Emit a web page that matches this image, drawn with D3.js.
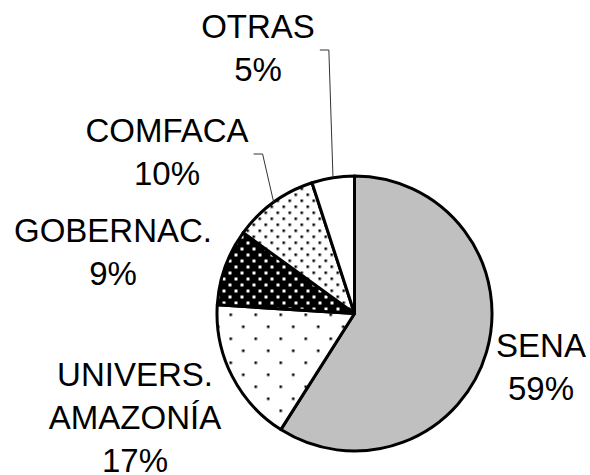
<!DOCTYPE html>
<html>
<head>
<meta charset="utf-8">
<script src="https://cdn.jsdelivr.net/npm/d3@7"></script>
<style>
  body { margin: 0; background: #fff; }
  text { font-family: Arial, "Liberation Sans", sans-serif; }
</style>
</head>
<body>
<div id="chart"></div>
<script>
// data
var categories = ["SENA", "UNIVERS. AMAZONÍA", "GOBERNAC.", "COMFACA", "OTRAS"];
var values = [59, 17, 9, 10, 5];
var labelLines = [["SENA"], ["UNIVERS.", "AMAZONÍA"], ["GOBERNAC."], ["COMFACA"], ["OTRAS"]];
var fills = ["#c0c0c0", "url(#dotsSparse)", "url(#dotsInverse)", "url(#dotsDense)", "#ffffff"];

// layout
var width = 590, height = 475;
var cx = 354.5, cy = 313.5, radius = 137.5;
var fontSize = 33, lineH = 43;
// label anchor (center x, first baseline) relative to pie center
var labelOffset = [[186.5, 43.5], [-219.5, 72], [-241.5, -71.5], [-187.5, -171.5], [-96.5, -275.5]];
var hasLeader = [false, false, false, true, true];

var svg = d3.select("#chart").append("svg")
  .attr("width", width)
  .attr("height", height);

// fill patterns
var defs = svg.append("defs");

var p1 = defs.append("pattern").attr("id", "dotsSparse")
  .attr("patternUnits", "userSpaceOnUse").attr("width", 25).attr("height", 24);
p1.append("rect").attr("width", 25).attr("height", 24).attr("fill", "#fff");
p1.append("rect").attr("x", 0).attr("y", 0).attr("width", 2.5).attr("height", 2.5).attr("fill", "#000");
p1.append("rect").attr("x", 12.5).attr("y", 12).attr("width", 2.5).attr("height", 2.5).attr("fill", "#000");

var p2 = defs.append("pattern").attr("id", "dotsDense")
  .attr("patternUnits", "userSpaceOnUse").attr("width", 12).attr("height", 12);
p2.append("rect").attr("width", 12).attr("height", 12).attr("fill", "#fff");
p2.append("rect").attr("x", 0).attr("y", 0).attr("width", 2.5).attr("height", 2.5).attr("fill", "#000");
p2.append("rect").attr("x", 6).attr("y", 6).attr("width", 2.5).attr("height", 2.5).attr("fill", "#000");

var p3 = defs.append("pattern").attr("id", "dotsInverse")
  .attr("patternUnits", "userSpaceOnUse").attr("width", 12).attr("height", 12);
p3.append("rect").attr("width", 12).attr("height", 12).attr("fill", "#000");
p3.append("rect").attr("x", 0).attr("y", 0).attr("width", 3).attr("height", 3).attr("fill", "#fff");
p3.append("rect").attr("x", 6).attr("y", 6).attr("width", 3).attr("height", 3).attr("fill", "#fff");

var g = svg.append("g").attr("transform", `translate(${cx}, ${cy})`);

var entries = categories.map(function (c, i) { return { key: c, value: values[i], i: i }; });
var total = d3.sum(values);

var pie = d3.pie().value(d => d.value).sort(null);
var arcs = pie(entries);

var arc = d3.arc().innerRadius(0).outerRadius(radius);

g.selectAll("path.slice")
  .data(arcs)
  .enter()
  .append("path")
    .attr("class", "slice")
    .attr("d", arc)
    .attr("fill", d => fills[d.data.i])
    .attr("stroke", "#000")
    .attr("stroke-width", 3)
    .attr("stroke-linejoin", "round");

// labels
var labels = g.selectAll("g.label")
  .data(arcs)
  .enter()
  .append("g")
    .attr("class", "label");

labels.each(function (d) {
  var i = d.data.i;
  var lines = labelLines[i].concat([Math.round(d.data.value / total * 100) + "%"]);
  var t = d3.select(this).append("text")
    .attr("text-anchor", "middle")
    .style("font-size", fontSize + "px")
    .attr("fill", "#000");
  lines.forEach(function (ln, k) {
    t.append("tspan")
      .attr("x", labelOffset[i][0])
      .attr("y", labelOffset[i][1] + k * lineH)
      .text(ln);
  });
});

// leader lines from label to slice edge midpoint
labels.each(function (d) {
  var i = d.data.i;
  if (!hasLeader[i]) return;
  var first = d3.select(this).select("tspan").node();
  var bb = first.getBBox();
  var x0 = bb.x + bb.width + 5;
  var y0 = labelOffset[i][1] + 12;
  var mid = (d.startAngle + d.endAngle) / 2;
  var ex = radius * Math.sin(mid), ey = -radius * Math.cos(mid);
  g.append("path")
    .attr("d", d3.line()([[x0, y0], [x0 + 9, y0], [ex, ey]]))
    .attr("fill", "none")
    .attr("stroke", "#333")
    .attr("stroke-width", 1);
});
</script>
</body>
</html>
